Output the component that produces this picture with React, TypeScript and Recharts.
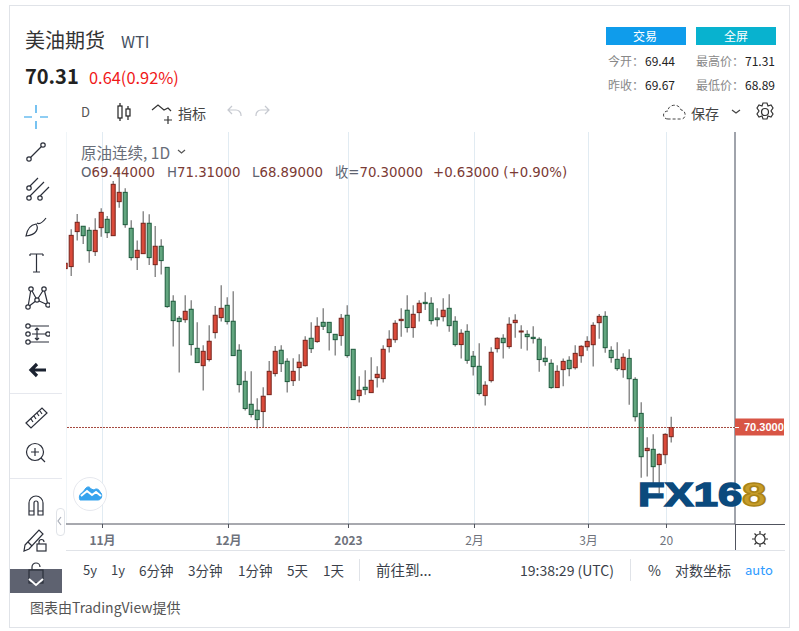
import { Bar, CartesianGrid, ComposedChart, ReferenceLine, XAxis, YAxis } from 'recharts';

// daily candles, oldest first
const opens = [
  85.15, 85.34, 88.61, 89.11, 88.73, 86.74, 88.98, 89.76, 88.23, 91.41, 92.28, 88.92, 86.18, 86.55, 89.39, 85.52, 87.24,
  85.27, 82.1, 80.51, 80.38, 81.35, 77.7, 76.08, 76.65, 79.17, 80.57, 81.72, 80.23, 77.52, 74.62, 72.47, 71.91, 71.79,
  73.37, 75.34, 77.52, 76.49, 74.68, 75.9, 76.08, 78.64, 78.33, 80.13, 80.13, 79.01, 78.89, 80.79, 77.61, 73.28, 74.06,
  73.56, 74.96, 74.87, 77.86, 78.51, 80.29, 81.26, 79.64, 81.04, 82.0, 81.91, 80.54, 80.66, 81.44, 80.23, 78.05, 79.29,
  76.96, 76.02, 73.28, 74.68, 77.67, 78.64, 77.86, 80.1, 79.26, 79.01, 78.73, 78.55, 76.77, 76.3, 74.03, 75.71, 76.58,
  75.89, 77.01, 77.85, 78.04, 80.1, 80.69, 77.51, 76.67, 75.71, 76.76, 74.8, 71.62, 68.14, 68.26, 66.83, 67.76, 69.44,
];
const closes = [
  85.65, 88.26, 89.48, 88.23, 86.83, 88.73, 90.41, 88.51, 93.03, 92.28, 89.26, 86.18, 86.86, 89.39, 86.18, 87.24, 85.9,
  81.6, 80.29, 80.2, 81.16, 78.05, 76.37, 77.42, 78.36, 80.79, 81.44, 80.2, 77.02, 74.31, 72.07, 71.51, 71.04, 73.22,
  75.55, 77.42, 76.27, 74.59, 75.55, 76.4, 78.45, 77.67, 79.76, 79.76, 79.17, 78.51, 80.51, 77.02, 72.91, 73.78, 73.84,
  74.71, 75.27, 77.61, 78.55, 80.04, 80.41, 79.64, 80.88, 81.91, 81.88, 80.29, 80.38, 81.26, 79.82, 78.05, 79.11, 76.58,
  75.99, 73.47, 74.25, 77.33, 78.64, 78.23, 79.95, 80.32, 79.32, 78.79, 78.61, 76.65, 76.46, 74.03, 75.55, 76.48, 75.8,
  77.23, 77.89, 78.35, 79.85, 80.69, 77.76, 76.83, 75.8, 76.86, 74.86, 71.31, 67.57, 68.35, 66.64, 67.79, 69.66, 70.3,
];
const highs = [
  85.65, 88.83, 90.26, 89.11, 89.01, 89.85, 90.79, 90.07, 93.34, 94.65, 92.66, 89.67, 87.77, 90.51, 90.23, 89.14, 87.89,
  85.27, 82.66, 80.73, 82.66, 82.19, 80.13, 77.99, 79.85, 81.66, 83.59, 82.47, 83.03, 78.08, 75.55, 75.55, 73.03, 74.06,
  76.52, 77.92, 77.98, 76.77, 76.77, 77.14, 78.83, 80.13, 80.6, 81.44, 80.13, 79.01, 80.91, 81.72, 77.61, 75.09, 75.65,
  76.86, 76.02, 77.98, 79.39, 80.32, 81.44, 82.66, 81.72, 82.19, 82.94, 82.47, 81.44, 82.38, 82.75, 80.69, 79.48, 79.95,
  77.46, 78.17, 74.62, 77.8, 78.73, 79.01, 80.6, 80.88, 79.85, 79.39, 79.76, 78.73, 77.89, 76.68, 76.12, 76.76, 76.95,
  77.98, 77.98, 78.82, 80.13, 80.91, 81.16, 77.89, 78.26, 77.23, 77.61, 74.99, 72.65, 69.38, 69.66, 67.89, 69.76, 71.31,
];
const lows = [
  85.15, 84.46, 87.77, 87.45, 85.71, 86.33, 88.14, 88.02, 88.23, 90.85, 88.98, 85.9, 85.02, 86.55, 85.49, 84.37, 84.59,
  81.5, 77.86, 75.43, 80.1, 77.02, 76.37, 73.75, 76.46, 78.61, 80.2, 79.92, 77.02, 73.56, 71.88, 71.23, 70.2, 70.35,
  73.37, 75.06, 75.49, 73.56, 74.18, 74.68, 75.99, 77.27, 78.23, 79.42, 77.49, 77.02, 77.95, 76.83, 72.91, 72.63, 73.37,
  73.56, 74.03, 74.5, 77.3, 78.23, 78.79, 79.17, 78.7, 80.2, 81.29, 79.92, 79.73, 80.2, 79.26, 77.86, 76.74, 76.27,
  75.15, 73.28, 72.35, 74.5, 77.3, 76.74, 77.67, 78.7, 77.67, 77.49, 78.14, 75.52, 76.08, 73.93, 74.03, 74.15, 75.08,
  75.71, 76.36, 77.48, 75.99, 78.6, 77.29, 76.36, 75.61, 74.96, 72.43, 70.85, 65.61, 65.71, 64.77, 64.15, 66.92, 68.89,
];

const tickIndexes = [6, 27, 47, 68, 87, 100];
const tickLabels = ['11月', '12月', '2023', '2月', '3月', '20'];
const boldLabels = ['11月', '12月', '2023'];
const lastPrice = 70.3;

const candles = opens.map((open, i) => ({ i, open, close: closes[i], high: highs[i], low: lows[i] }));

const CJK = '"Noto Sans CJK SC", "Noto Sans", sans-serif';

const Candle = (props: any) => {
  const { x, y, width, height, payload } = props;
  if (!payload) return null;
  const { open, close, high, low } = payload;
  const perUnit = height / (high - low);
  const top = y + (high - Math.max(open, close)) * perUnit;
  const bodyH = Math.max(Math.abs(open - close) * perUnit, 1);
  const up = close >= open;
  const cx = x + width / 2 - 1; // bodies sit a px left of the grid lines in the reference
  return (
    <g>
      <line x1={cx} x2={cx} y1={y} y2={y + height} stroke="#707070" strokeWidth={1.2} />
      <rect
        x={cx - 2}
        y={top}
        width={4}
        height={bodyH}
        fill={up ? '#da4a3a' : '#62a57f'}
        stroke={up ? '#76231b' : '#1c5a3b'}
        strokeWidth={1}
      />
    </g>
  );
};

const TimeTick = (props: any) => {
  const { x, y, payload } = props;
  const label = tickLabels[tickIndexes.indexOf(payload.value)];
  return (
    <text
      x={x}
      y={y + 15}
      textAnchor="middle"
      fontSize={12}
      fontFamily={CJK}
      fontWeight={boldLabels.includes(label) ? 700 : 400}
      fill="#6e727c"
    >
      {label}
    </text>
  );
};

const PriceTick = (props: any) => {
  const { x, y } = props;
  return (
    <g>
      <rect x={x - 8} y={y - 9} width={49} height={17} fill="#d85545" />
      <line x1={x - 8} x2={x - 4} y1={y} y2={y} stroke="#fff" />
      <text x={x + 1} y={y + 4} fontSize={11} fontWeight={700} fontFamily="Liberation Sans" fill="#fff">
        70.3000
      </text>
    </g>
  );
};

const Txt = ({ x, y, size = 13, color = '#333', weight = 400, font = CJK, children }: any) => (
  <div
    style={{
      position: 'absolute',
      left: x,
      top: y - 12,
      height: 24,
      lineHeight: '24px',
      fontSize: size,
      color,
      fontWeight: weight,
      fontFamily: font,
      whiteSpace: 'nowrap',
    }}
  >
    {children}
  </div>
);

const Box = ({ x, y, w, h, bg, style }: any) => (
  <div style={{ position: 'absolute', left: x, top: y, width: w, height: h, background: bg, ...style }} />
);

const Icon = ({ x, y, w = 28, h = 28, children, color = '#2b2f3a', sw = 1.2 }: any) => (
  <svg
    style={{ position: 'absolute', left: x, top: y }}
    width={w}
    height={h}
    fill="none"
    stroke={color}
    strokeWidth={sw}
  >
    {children}
  </svg>
);

const dotted = (points: number[][]) =>
  points.map(([cx, cy], i) => <circle key={i} cx={cx} cy={cy} r={2.2} fill="#fff" />);

const LeftToolbar = () => (
  <>
    <Icon x={22} y={103} color="#1e9be8">
      <path d="M14 2v8M14 18v8M2 14h8M18 14h8" />
    </Icon>
    <Icon x={22} y={138}>
      <path d="M7 21 21 7" />
      {dotted([[7, 21], [21, 7]])}
    </Icon>
    <Icon x={22} y={175}>
      <path d="M7 12 16 3M7 22 22 7M18 21l9-9" />
      {dotted([[7, 13], [7, 23], [18, 23]])}
    </Icon>
    <Icon x={22} y={212}>
      <path d="M4 24c1-6 4-11 10-12 3 4 1 11-10 12zM15 11c3 2 6-1 9-5" />
    </Icon>
    <Icon x={22} y={248}>
      <path d="M8 6h13M14.5 6v18M11 24h7M8 6v2M21 6v2" />
    </Icon>
    <Icon x={22} y={283}>
      <path d="M9 6 6 24M9 6l6 11M22 6l-7 11M22 6l4 16M15 17 6 24M15 17l11 5" />
      {dotted([[9, 6], [22, 6], [15, 17], [6, 24], [26, 22]])}
    </Icon>
    <Icon x={22} y={320}>
      <path d="M7 6h20M10 14h14M7 22h20M15 8v12M13 10l2-2 2 2M13 18l2 2 2-2" />
      {dotted([[6, 6], [6, 14], [26, 14], [6, 22]])}
    </Icon>
    <Icon x={22} y={356} color="#1b2230" sw={3.2}>
      <path d="M24 14H9M15 8l-6 6 6 6" />
    </Icon>
    <Box x={10} y={393} w={52} h={1} bg="#e6e8ee" />
    <Icon x={22} y={403}>
      <path d="M4 20 20 5l5 5-16 15zM9 16l2 3M12 13l2 3M15 10l2 3M18 8l2 3" />
    </Icon>
    <Icon x={22} y={439}>
      <circle cx={13} cy={13} r={8.5} />
      <path d="M9 13h8M13 9v8M19 19l4 4" />
    </Icon>
    <Box x={10} y={478} w={52} h={1} bg="#e6e8ee" />
    <Icon x={22} y={489}>
      <path d="M7 26V14a7 7 0 0 1 14 0v12h-5V14a2 2 0 0 0-4 0v12zM7 22h5M16 22h5" />
    </Icon>
    <Icon x={22} y={526}>
      <path d="M3 19 17 4l4 4L7 23l-5 2zM6 16l4 4" />
      <rect x={15} y={18} width={9} height={7} fill="#fff" />
      <path d="M17 18v-2a2.5 2.5 0 0 1 5 0" />
    </Icon>
    <Box x={10} y={569} w={52} h={24} bg="#5e6270" />
    <Icon x={22} y={560}>
      <rect x={7} y={10} width={14} height={13} />
      <path d="M10 10V7a4 4 0 0 1 8 0" />
    </Icon>
    <Icon x={22} y={567} color="#fff" sw={2}>
      <path d="M7 12l7 6 7-6" />
    </Icon>
    <Box
      x={56}
      y={508}
      w={7}
      h={26}
      bg="#fff"
      style={{ border: '1px solid #e0e3e8', borderRadius: 4 }}
    />
    <Icon x={56} y={516} w={8} h={10} color="#a8adb7">
      <path d="M5 1 2 5l3 4" />
    </Icon>
  </>
);

const TopToolbar = () => (
  <>
    <Txt x={81} y={112} size={13} color="#555">D</Txt>
    <Icon x={115} y={102} w={18} h={20} color="#222">
      <path d="M5 1v18M13 4v14" />
      <rect x={3} y={4} width={4} height={12} fill="#fff" />
      <rect x={11} y={7} width={4} height={7} fill="#fff" />
    </Icon>
    <Icon x={150} y={102} w={26} h={24} color="#333">
      <path d="M2 8l6-5 6 5 4-2 3 3M18 14v8M14 18h8" />
    </Icon>
    <Txt x={178} y={113} size={14} color="#444">指标</Txt>
    <Icon x={226} y={104} w={18} h={16} color="#c6c9d0">
      <path d="M6 2 2 6l4 4M2 6h8a5 5 0 0 1 5 5v1" />
    </Icon>
    <Icon x={253} y={104} w={18} h={16} color="#c6c9d0">
      <path d="M12 2l4 4-4 4M16 6H8a5 5 0 0 0-5 5v1" />
    </Icon>
    <Icon x={662} y={101} w={26} h={20} color="#444" sw={1}>
      <path
        d="M6 18c-6 0-6-8 0-8 0-7 11-8 13-1 5 0 6 9 0 9z"
        strokeDasharray="3 2"
      />
    </Icon>
    <Txt x={691} y={113} size={14} color="#444">保存</Txt>
    <Icon x={730} y={107} w={12} h={10} color="#444">
      <path d="M2 3l4 3 4-3" />
    </Icon>
    <Icon x={754} y={101} w={22} h={22} color="#333">
      <circle cx={11} cy={11} r={3.5} />
      <path d="M9 2h4l1 3 3-1 2 3-2 3 2 3-2 3-3-1-1 3H9l-1-3-3 1-2-3 2-3-2-3 2-3 3 1z" />
    </Icon>
  </>
);

const Header = () => (
  <>
    <Txt x={25} y={40} size={20} color="#333">美油期货</Txt>
    <Txt x={121} y={41} size={16} color="#44505f">WTI</Txt>
    <Txt x={25} y={76} size={20} weight={700} color="#222">70.31</Txt>
    <Txt x={89} y={77} size={16.4} color="#f01818">0.64(0.92%)</Txt>
    <Box x={606} y={27} w={80} h={18} bg="#0f9ceb" />
    <Box x={696} y={27} w={80} h={18} bg="#08b2cf" />
    <Txt x={633} y={36} size={12} color="#fff">交易</Txt>
    <Txt x={724} y={36} size={12} color="#fff">全屏</Txt>
    <Txt x={608} y={61} size={12} color="#888">今开：</Txt>
    <Txt x={645} y={61} size={12} color="#222">69.44</Txt>
    <Txt x={608} y={85} size={12} color="#888">昨收：</Txt>
    <Txt x={645} y={85} size={12} color="#222">69.67</Txt>
    <Txt x={696} y={61} size={12} color="#888">最高价：</Txt>
    <Txt x={745} y={61} size={12} color="#222">71.31</Txt>
    <Txt x={696} y={85} size={12} color="#888">最低价：</Txt>
    <Txt x={745} y={85} size={12} color="#222">68.89</Txt>
  </>
);

const legendGrey = '#5d6370';
const legendRed = '#7b3a34';

const Legend = () => (
  <>
    <Txt x={81} y={152} size={15.5} color="#686d78">原油连续, 1D</Txt>
    <Icon x={176} y={147} w={12} h={10} color="#555">
      <path d="M2 3l3.5 3L9 3" />
    </Icon>
    {[
      [81, 'O', '69.44000'],
      [167, 'H', '71.31000'],
      [252, 'L', '68.89000'],
      [335, '收=', '70.30000'],
      [433, '', '+0.63000 (+0.90%)'],
    ].map(([x, k, v]) => (
      <Txt key={String(x)} x={x} y={173} size={13.3} font={'"DejaVu Sans", "Noto Sans CJK SC"'} color={legendRed}>
        <span style={{ color: legendGrey }}>{k}</span>
        {v}
      </Txt>
    ))}
  </>
);

const Footer = () => (
  <>
    {[
      [83, '5y', 13],
      [111, '1y', 13],
      [139, '6分钟', 13.5],
      [188, '3分钟', 13.5],
      [238, '1分钟', 13.5],
      [287, '5天', 13.5],
      [323, '1天', 13.5],
      [376, '前往到...', 14.5],
      [520, '19:38:29 (UTC)', 14],
      [675, '对数坐标', 14],
    ].map(([x, s, size]) => (
      <Txt key={String(s)} x={x} y={570} size={size} color="#3a3f4a">{s}</Txt>
    ))}
    <Txt x={648} y={570} size={14} color="#3a3f4a">%</Txt>
    <Txt x={745} y={570} size={13} color="#2e9bff">auto</Txt>
    <Box x={359} y={559} w={1} h={22} bg="#e0e3e8" />
    <Box x={630} y={559} w={1} h={22} bg="#e0e3e8" />
    <Txt x={30} y={607} size={14} color="#555">图表由TradingView提供</Txt>
  </>
);

const Logo = () => (
  <>
    <div
      style={{
        position: 'absolute',
        left: 638,
        top: 477,
        height: 36,
        lineHeight: '36px',
        fontFamily: '"Liberation Sans"',
        fontWeight: 700,
        fontSize: 33,
        color: '#0b4a7d',
        WebkitTextStroke: '1.5px #0b4a7d',
        transform: 'scaleX(1.32)',
        transformOrigin: 'left center',
        whiteSpace: 'nowrap',
      }}
    >
      FX16
      <span style={{ color: '#c79d2a', WebkitTextStroke: '1.5px #a98318' }}>8</span>
    </div>
    <div
      style={{
        position: 'absolute',
        left: 73,
        top: 477,
        width: 32,
        height: 32,
        borderRadius: 17,
        background: '#fff',
        border: '1px solid #e6e8ee',
      }}
    />
    <Icon x={78} y={484} w={26} h={18} color="#36a3ee" sw={1}>
      <path
        d="M2 16c-2-4 1-7 3-8l3-4c2-2 4-1 5 1l3 1c2-2 5-1 6 2 3 2 2 8-2 8z"
        fill="#36a3ee"
      />
      <path d="M3 12l6-5 5 4 4-3 5 4" stroke="#fff" strokeWidth={2} />
    </Icon>
  </>
);

export default function App() {
  return (
    <div style={{ position: 'absolute', left: 0, top: 0, width: 799, height: 631, background: '#fff', overflow: 'hidden' }}>
      <Box x={9} y={5} w={779} h={621} style={{ border: '1px solid #e0e3e8' }} />
      <div style={{ position: 'absolute', left: 66, top: 132 }}>
        <ComposedChart
          width={719}
          height={418}
          data={candles}
          barSize={6}
          margin={{ top: 0, right: 0, bottom: 0, left: 0 }}
        >
          <CartesianGrid horizontal={false} stroke="#e1ebf2" />
          <XAxis
            dataKey="i"
            type="number"
            domain={[-0.083, 111.417]}
            allowDataOverflow
            ticks={tickIndexes}
            interval={0}
            height={26}
            tick={<TimeTick />}
            tickSize={4}
            tickLine={{ stroke: '#50535e' }}
            axisLine={{ stroke: '#50535e' }}
          />
          <YAxis
            orientation="right"
            width={50}
            type="number"
            domain={[61.28, 97.92]}
            allowDataOverflow
            ticks={[lastPrice]}
            interval={0}
            tick={<PriceTick />}
            tickLine={false}
            axisLine={{ stroke: '#50535e' }}
          />
          <Bar
            dataKey={(d: any) => [d.low, d.high]}
            shape={<Candle />}
            isAnimationActive={false}
          />
          <ReferenceLine y={lastPrice} stroke="#a5483e" strokeDasharray="2 1" />
        </ComposedChart>
      </div>
      <Box x={735} y={524} w={1} h={26} bg="#50535e" />
      <Box x={735} y={524} w={50} h={1} bg="#50535e" />
      <Box x={66} y={550} w={719} h={1} bg="#e0e3e8" />
      <Icon x={751} y={530} w={18} h={18} color="#333">
        <circle cx={9} cy={9} r={5} />
        <path d="M9 1v3M9 14v3M1 9h3M14 9h3M3.5 3.5l2 2M12.5 12.5l2 2M14.5 3.5l-2 2M5.5 12.5l-2 2" />
      </Icon>
      <Header />
      <TopToolbar />
      <LeftToolbar />
      <Legend />
      <Logo />
      <Footer />
    </div>
  );
}
